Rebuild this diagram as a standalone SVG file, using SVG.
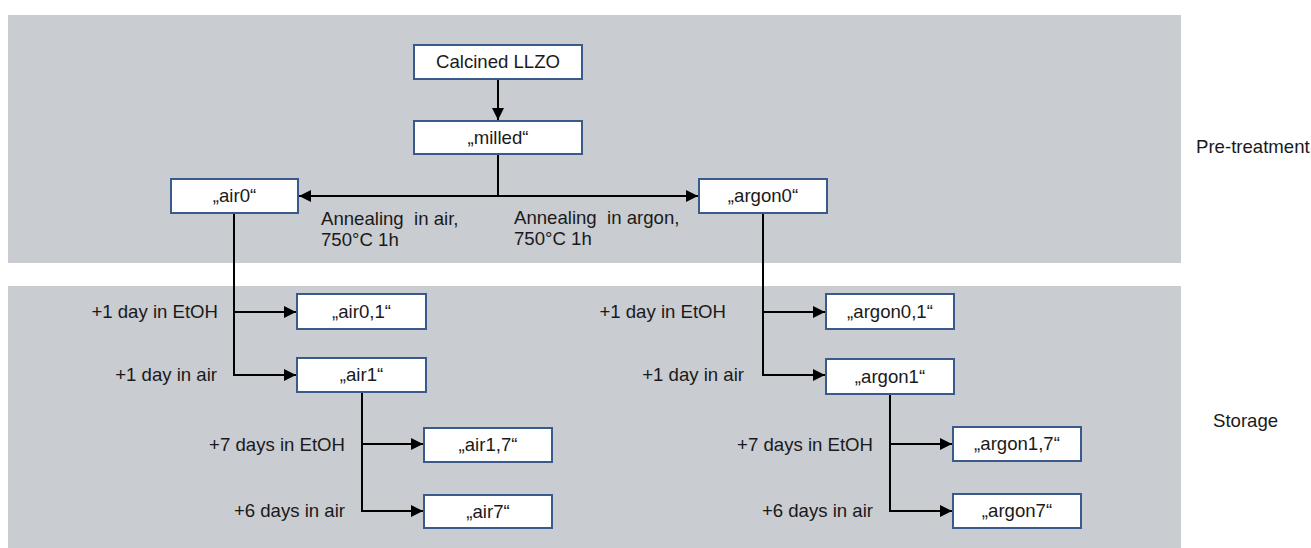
<svg xmlns="http://www.w3.org/2000/svg" width="1311" height="548" viewBox="0 0 1311 548">
<style>
.panel{fill:#c9ccd0}
.box{fill:#ffffff;stroke:#3a5a8c;stroke-width:2}
.t{font-family:"Liberation Sans",Arial,sans-serif;font-size:18.6px;fill:#1a1a1a}
.c{text-anchor:middle}
.r{text-anchor:end}
.ln{fill:none;stroke:#000;stroke-width:2}
</style>
<defs>
<marker id="ah" viewBox="0 0 10 10" refX="10" refY="5" markerWidth="6" markerHeight="6" orient="auto" markerUnits="strokeWidth">
<path d="M0,0 L10,5 L0,10 z" fill="#000"/>
</marker>
</defs>
<g id="panels">
<rect class="panel" x="8" y="15" width="1173" height="248"/>
<rect class="panel" x="8" y="286" width="1173" height="262"/>
<text class="t" x="1196" y="153">Pre-treatment</text>
<text class="t" x="1213" y="427">Storage</text>
</g>
<g id="connectors">
<path class="ln" d="M498,79 V120" marker-end="url(#ah)"/>
<path class="ln" d="M498,154 V196 H299" marker-end="url(#ah)"/>
<path class="ln" d="M498,196 H698" marker-end="url(#ah)"/>
<path class="ln" d="M234,213 V375 H296" marker-end="url(#ah)"/>
<path class="ln" d="M234,312 H296" marker-end="url(#ah)"/>
<path class="ln" d="M362,392 V511 H423" marker-end="url(#ah)"/>
<path class="ln" d="M362,444 H423" marker-end="url(#ah)"/>
<path class="ln" d="M763,213 V375 H825" marker-end="url(#ah)"/>
<path class="ln" d="M763,312 H825" marker-end="url(#ah)"/>
<path class="ln" d="M890,394 V511 H952" marker-end="url(#ah)"/>
<path class="ln" d="M890,444 H952" marker-end="url(#ah)"/>
<text class="t" x="321" y="225" xml:space="preserve">Annealing  in air,</text>
<text class="t" x="321" y="246">750°C 1h</text>
<text class="t" x="514" y="224" xml:space="preserve">Annealing  in argon,</text>
<text class="t" x="514" y="245">750°C 1h</text>
<text class="t r" x="218" y="318">+1 day in EtOH</text>
<text class="t r" x="217" y="381">+1 day in air</text>
<text class="t r" x="345" y="451">+7 days in EtOH</text>
<text class="t r" x="345" y="517">+6 days in air</text>
<text class="t r" x="726" y="318">+1 day in EtOH</text>
<text class="t r" x="744" y="381">+1 day in air</text>
<text class="t r" x="873" y="451">+7 days in EtOH</text>
<text class="t r" x="873" y="517">+6 days in air</text>
</g>
<g id="calcined"><rect class="box" x="414" y="45" width="168" height="34"/><text class="t c" x="498" y="68">Calcined LLZO</text></g>
<g id="milled"><rect class="box" x="414" y="121" width="168" height="33"/><text class="t c" x="498" y="144">„milled“</text></g>
<g id="air0"><rect class="box" x="171" y="179" width="127" height="34"/><text class="t c" x="234.5" y="202">„air0“</text></g>
<g id="argon0"><rect class="box" x="699" y="179" width="128" height="34"/><text class="t c" x="763" y="202">„argon0“</text></g>
<g id="air01"><rect class="box" x="297" y="294" width="129" height="35"/><text class="t c" x="361.5" y="318">„air0,1“</text></g>
<g id="air1"><rect class="box" x="297" y="358" width="129" height="34"/><text class="t c" x="361.5" y="381">„air1“</text></g>
<g id="air17"><rect class="box" x="424" y="428" width="128" height="34"/><text class="t c" x="488" y="451">„air1,7“</text></g>
<g id="air7"><rect class="box" x="424" y="495" width="128" height="33"/><text class="t c" x="488" y="518">„air7“</text></g>
<g id="argon01"><rect class="box" x="826" y="294" width="128" height="35"/><text class="t c" x="890" y="318">„argon0,1“</text></g>
<g id="argon1"><rect class="box" x="826" y="359" width="128" height="35"/><text class="t c" x="890" y="383">„argon1“</text></g>
<g id="argon17"><rect class="box" x="953" y="427" width="128" height="34"/><text class="t c" x="1017" y="450">„argon1,7“</text></g>
<g id="argon7"><rect class="box" x="953" y="494" width="128" height="34"/><text class="t c" x="1017" y="517">„argon7“</text></g>
</svg>
